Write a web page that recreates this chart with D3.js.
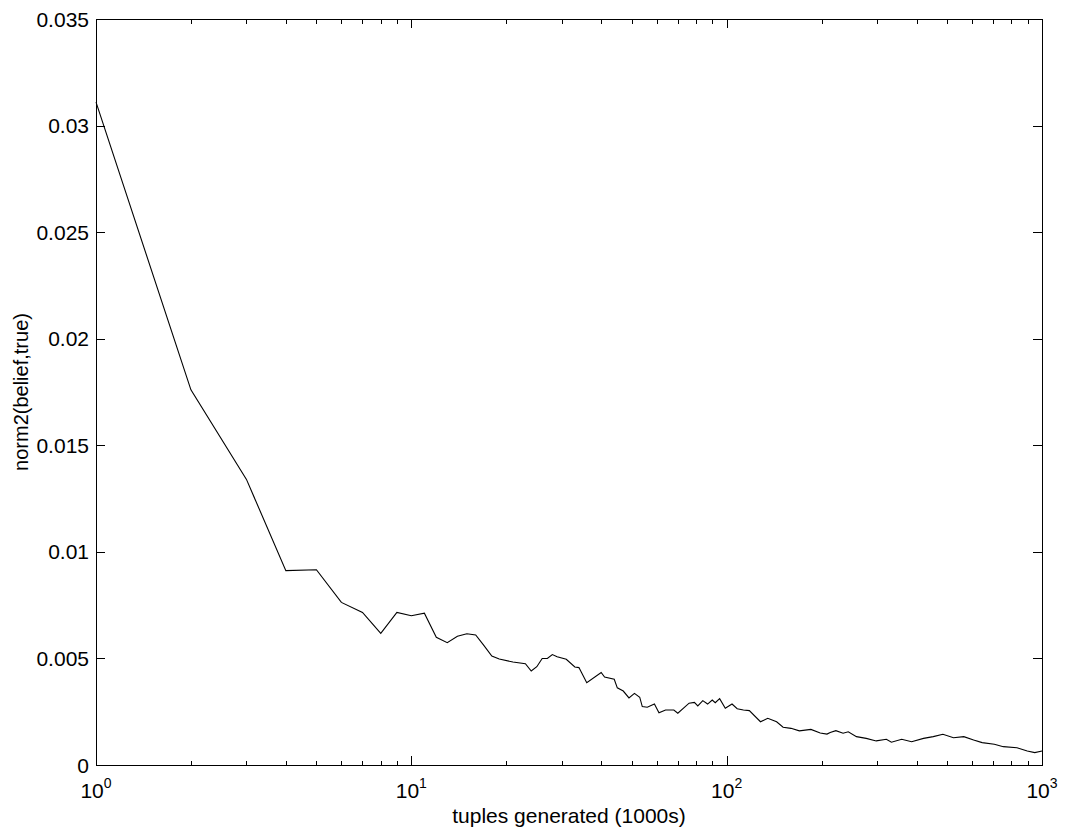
<!DOCTYPE html>
<html>
<head>
<meta charset="utf-8">
<script src="https://d3js.org/d3.v7.min.js"></script>
<style>
	body{
		margin:0;
		background-color:#fff;
		font-family: 'Liberation Sans', Arial, sans-serif;
	}
	.axis path, .axis line{
		stroke:#000;
		shape-rendering:crispEdges;
	}
	.lbl{
		font-size:21px;
		fill:#000;
	}
</style>
</head>
<body>
<div id="chart"></div>
<script>

//DATA

var tuples = [1,2,3,4,5,6,7,8,9,10,11,12,13,14,15,16,17,18,19,21,23,24,25,26,27,28,29,31,33,34,36,
	40,41,44,45,47,49,51,53,54,56,59,61,64,68,70,76,79,81,84,87,90,92,95,99,
	104,108,113,118,128,135,144,151,160,170,185,198,208,213,222,234,243,258,277,298,
	321,333,359,386,421,452,485,524,565,607,646,706,754,833,898,949,1000];

var norm2 = [0.0311,0.0176,0.0134,0.00912,0.00916,0.00763,0.00716,0.00618,0.00716,0.0070,0.00712,0.00599,0.00574,0.00604,0.00616,0.0061,0.0056,0.00511,0.00497,0.00483,0.00475,0.00441,0.00461,0.0050,0.0050,0.00518,0.00508,0.00496,0.0046,0.00457,0.00386,
	0.00434,0.00413,0.00402,0.00362,0.00347,0.00315,0.00336,0.00318,0.00274,0.00271,0.00286,0.00245,0.00258,0.00258,0.00243,0.0029,0.00294,0.00277,0.00302,0.00286,0.00305,0.00292,0.00311,0.00266,
	0.00286,0.00264,0.00258,0.00255,0.00203,0.00219,0.00203,0.00177,0.00172,0.0016,0.00167,0.0015,0.00145,0.00153,0.00161,0.00149,0.00156,0.00133,0.00125,0.00113,
	0.00121,0.00107,0.00121,0.00109,0.00125,0.00133,0.00144,0.00128,0.00133,0.00117,0.00105,0.00097,0.00086,0.00081,0.00066,0.00058,0.00066];

var yTicks = [0,0.005,0.01,0.015,0.02,0.025,0.03,0.035];
var xDecades = [1,10,100,1000];
var xExponents = ["0","1","2","3"];

var xLabel = "tuples generated (1000s)";
var yLabel = "norm2(belief,true)";

//SETUP

var width = 1065;
var height = 834;
var pLeft = 96, pRight = 1042, pTop = 19, pBottom = 765;

var svg = d3.select("#chart").append("svg")
	.attr("width", width)
	.attr("height", height);

var x = d3.scaleLog().domain([1,1000]).range([pLeft,pRight]);
var y = d3.scaleLinear().domain([0,0.035]).range([pBottom,pTop]);

var minorTicks = [];
xDecades.slice(0,3).forEach(function(d){
	for (var k = 2; k <= 9; k++) minorTicks.push(d*k);
});

//AXES (ticks point inward on all four sides)

svg.append("g").attr("class","axis")
	.attr("transform","translate(0,"+pBottom+")")
	.call(d3.axisBottom(x).tickValues(xDecades).tickSizeInner(-9).tickSizeOuter(0).tickFormat(""));
svg.append("g").attr("class","axis")
	.attr("transform","translate(0,"+pBottom+")")
	.call(d3.axisBottom(x).tickValues(minorTicks).tickSizeInner(-4.5).tickSizeOuter(0).tickFormat(""))
	.select(".domain").remove();

svg.append("g").attr("class","axis")
	.attr("transform","translate(0,"+pTop+")")
	.call(d3.axisTop(x).tickValues(xDecades).tickSizeInner(-9).tickSizeOuter(0).tickFormat(""));
svg.append("g").attr("class","axis")
	.attr("transform","translate(0,"+pTop+")")
	.call(d3.axisTop(x).tickValues(minorTicks).tickSizeInner(-4.5).tickSizeOuter(0).tickFormat(""))
	.select(".domain").remove();

svg.append("g").attr("class","axis")
	.attr("transform","translate("+pLeft+",0)")
	.call(d3.axisLeft(y).tickValues(yTicks).tickSizeInner(-9).tickSizeOuter(0).tickFormat(""));
svg.append("g").attr("class","axis")
	.attr("transform","translate("+pRight+",0)")
	.call(d3.axisRight(y).tickValues(yTicks).tickSizeInner(-9).tickSizeOuter(0).tickFormat(""));

//TICK LABELS

svg.selectAll(".ylab")
	.data(yTicks)
	.enter()
	.append("text")
	.attr("class","lbl")
	.attr("x", pLeft-7)
	.attr("y", function(d){ return y(d); })
	.attr("dy","0.36em")
	.attr("text-anchor","end")
	.text(function(d){ return String(+d.toFixed(3)); });

var xl = svg.selectAll(".xlab")
	.data(xDecades)
	.enter()
	.append("text")
	.attr("class","lbl")
	.attr("x", function(d){ return x(d); })
	.attr("y", 798)
	.attr("text-anchor","middle");
xl.append("tspan").text("10");
xl.append("tspan")
	.attr("dy",-10)
	.style("font-size","14px")
	.text(function(d,i){ return xExponents[i]; });

//AXIS TITLES

svg.append("text")
	.attr("class","lbl")
	.attr("x", (pLeft+pRight)/2)
	.attr("y", 823)
	.attr("text-anchor","middle")
	.text(xLabel);

svg.append("text")
	.attr("class","lbl")
	.style("font-size","20px")
	.attr("transform","translate(28,"+((pTop+pBottom)/2)+") rotate(-90)")
	.attr("text-anchor","middle")
	.text(yLabel);

//LINE

var line = d3.line()
	.x(function(d,i){ return x(tuples[i]); })
	.y(function(d){ return y(d); });

svg.append("path")
	.datum(norm2)
	.attr("fill","none")
	.attr("stroke","#000")
	.attr("stroke-width",1.1)
	.attr("d", line);

</script>
</body>
</html>
